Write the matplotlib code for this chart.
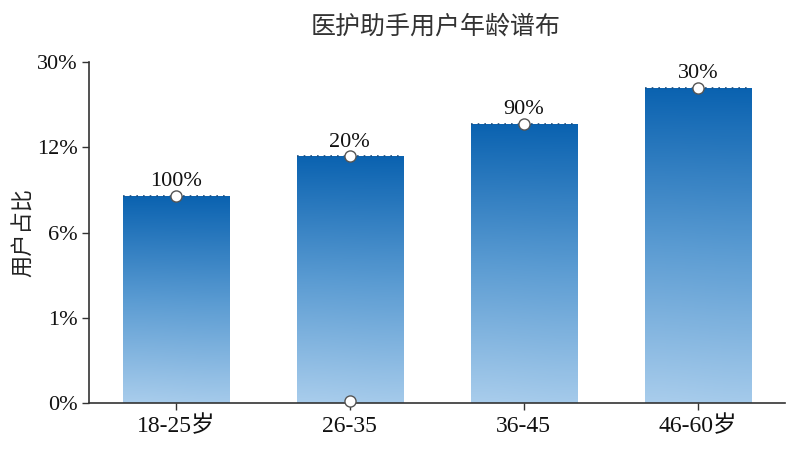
import numpy as np
import matplotlib
matplotlib.use("Agg")
import matplotlib.pyplot as plt
from matplotlib.colors import LinearSegmentedColormap

# ---- data ----
categories = ["18-25岁", "26-35", "36-45", "46-60岁"]
values = [8.6, 11.4, 17.0, 24.6]          # bar heights in %
bar_labels = ["100%", "20%", "90%", "30%"]
tick_values = [0, 1, 6, 12, 30]
tick_labels = ["0%", "1%", "6%", "12%", "30%"]
extra_marker_cat = 1
extra_marker_val = 0.02

title = "医护助手用户年龄谱布"
ylabel = "用户占比"

serif = ["Liberation Serif", "Noto Sans CJK SC"]
sans = ["Noto Sans CJK SC", "DejaVu Sans"]

fig = plt.figure(figsize=(8, 4.5), dpi=100)
ax = fig.add_axes([0.111, 0.1044, 0.87, 0.7578])

tv = np.array(tick_values, dtype=float)
pos = np.arange(len(tv), dtype=float)
fwd = lambda v: np.interp(v, tv, pos)
inv = lambda p: np.interp(p, pos, tv)
ax.set_yscale("function", functions=(fwd, inv))
ax.set_ylim(0, 30)
ax.set_xlim(-0.5, len(categories) - 0.5)

x = np.arange(len(categories))
width = 0.61
bars = ax.bar(x, values, width=width, color="none", edgecolor="none", zorder=2)

cmap = LinearSegmentedColormap.from_list("g", ["#a9cdec", "#5a9bd2", "#0a62b0"])
grad = np.linspace(0, 1, 256).reshape(-1, 1)
grad = np.hstack([grad, grad * 0.97 + 0.03])
to_ax = lambda xy: ax.transAxes.inverted().transform(ax.transData.transform(xy))
for b, xi, v in zip(bars, x, values):
    (x0, y0) = to_ax((xi - width / 2, 0))
    (x1, y1) = to_ax((xi + width / 2, v))
    im = ax.imshow(grad, cmap=cmap, origin="lower", aspect="auto",
                   extent=(x0, x1, y0, y1), transform=ax.transAxes,
                   interpolation="bicubic", zorder=2)
    im.set_clip_path(b)
    ax.plot([xi - width / 2, xi + width / 2], [v, v], color="#1d4f80",
            lw=1.2, ls=(0, (1, 3)), zorder=3)

ax.plot(x, values, ls="none", marker="o", ms=8, mfc="white", mec="#555555",
        mew=1.0, zorder=5)
ax.plot([x[extra_marker_cat]], [extra_marker_val], ls="none", marker="o", ms=8,
        mfc="white", mec="#555555", mew=1.0, zorder=5, clip_on=False)

for xi, v, lab in zip(x, values, bar_labels):
    ax.annotate(lab, (xi, v), xytext=(0, 3), textcoords="offset points",
                ha="center", va="bottom", fontsize=16, family=serif,
                color="#111111", zorder=6)

ax.set_xticks(x)
ax.set_xticklabels(categories, family=serif, fontsize=17, color="#111111")
ax.set_yticks(tick_values)
ax.set_yticklabels(tick_labels, family=serif, fontsize=16, color="#111111")
ax.yaxis.set_minor_locator(matplotlib.ticker.NullLocator())
ax.tick_params(axis="both", length=5, width=1, color="#333333")
ax.tick_params(axis="x", pad=4)
ax.tick_params(axis="y", pad=3)

for s in ["top", "right"]:
    ax.spines[s].set_visible(False)
for s in ["left", "bottom"]:
    ax.spines[s].set_color("#333333")
    ax.spines[s].set_linewidth(1.2)

ax.set_ylabel(ylabel, family=sans, fontsize=16, color="#222222")
ax.yaxis.set_label_coords(-0.077, 0.5)
fig.text(0.545, 0.94, title, family=sans, fontsize=18, color="#333333",
         ha="center", va="center")

fig.savefig("out.png", dpi=100)
